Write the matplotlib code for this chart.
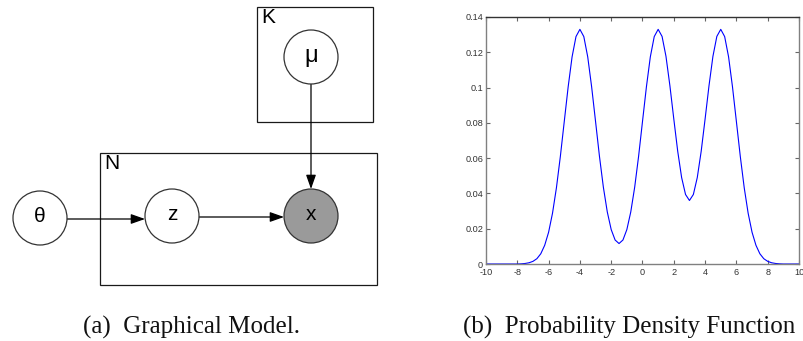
import numpy as np
import matplotlib
matplotlib.use("Agg")
import matplotlib.pyplot as plt
from matplotlib.patches import Circle, Rectangle

# ---------------- data ----------------
x_start, x_step = -10.0, 0.25
density = [
    0, 0, 0, 0, 0, 0, 0, 0, 0.0000, 0.0001, 0.0003, 0.0007, 0.0015, 0.0030,
    0.0058, 0.0106, 0.0180, 0.0288, 0.0432, 0.0609, 0.0807, 0.1004, 0.1174,
    0.1289, 0.1330, 0.1289, 0.1174, 0.1004, 0.0808, 0.0610, 0.0435, 0.0295,
    0.0195, 0.0136, 0.0116, 0.0136, 0.0195, 0.0295, 0.0435, 0.0610, 0.0808,
    0.1004, 0.1174, 0.1289, 0.1330, 0.1290, 0.1177, 0.1011, 0.0822, 0.0639,
    0.0490, 0.0394, 0.0360, 0.0394, 0.0490, 0.0639, 0.0822, 0.1011, 0.1177,
    0.1290, 0.1330, 0.1289, 0.1174, 0.1004, 0.0807, 0.0609, 0.0432, 0.0288,
    0.0180, 0.0106, 0.0058, 0.0030, 0.0015, 0.0007, 0.0003, 0.0001, 0, 0, 0,
    0, 0,
]
x_vals = x_start + x_step * np.arange(len(density))

x_ticks = [-10, -8, -6, -4, -2, 0, 2, 4, 6, 8, 10]
y_ticks = [0, 0.02, 0.04, 0.06, 0.08, 0.1, 0.12, 0.14]
y_tick_labels = ["0", "0.02", "0.04", "0.06", "0.08", "0.1", "0.12", "0.14"]

node_names = ["theta", "z", "x", "mu"]
node_labels = ["θ", "z", "x", "μ"]
node_observed = [False, False, True, False]
edges = [("theta", "z"), ("z", "x"), ("mu", "x")]
plate_labels = ["K", "N"]

caption_a = "(a)  Graphical Model."
caption_b = "(b)  Probability Density Function"

# ---------------- layout (pixels) ----------------
W, H = 804, 341
node_pos = {"theta": (40, 218), "z": (172, 216), "x": (311, 216), "mu": (311, 57)}
node_r = 27
node_fs = {"theta": 15, "z": 15, "x": 15, "mu": 17}
plate_rect = {"K": (257, 7, 373, 122), "N": (100, 153, 377, 285)}

fig = plt.figure(figsize=(W / 100, H / 100), dpi=100)
fig.patch.set_facecolor("white")

# diagram axes in pixel coordinates
ax0 = fig.add_axes([0, 0, 1, 1])
ax0.set_xlim(0, W)
ax0.set_ylim(H, 0)
ax0.axis("off")

sans = ["Liberation Sans", "DejaVu Sans"]

for name in plate_labels:
    x0, y0, x1, y1 = plate_rect[name]
    ax0.add_patch(Rectangle((x0, y0), x1 - x0, y1 - y0, fill=False,
                            ec="#1a1a1a", lw=0.9))
    ax0.text(x0 + 4, y0 + 1, name, family=sans, fontsize=15,
             ha="left", va="top", color="black")

def edge_point(a, b):
    (ax_, ay), (bx, by) = node_pos[a], node_pos[b]
    d = np.hypot(bx - ax_, by - ay)
    ux, uy = (bx - ax_) / d, (by - ay) / d
    return (ax_ + ux * node_r, ay + uy * node_r), (bx - ux * node_r, by - uy * node_r)

for a, b in edges:
    p0, p1 = edge_point(a, b)
    if a == "mu":
        p0 = (node_pos[b][0], p0[1])
        p1 = (node_pos[b][0], p1[1])
    else:
        yy = node_pos[a][1] if a == "theta" else (node_pos[a][1] + node_pos[b][1]) / 2
        p0 = (p0[0], yy + 1)
        p1 = (p1[0], yy + 1)
    ax0.annotate("", xy=p1, xytext=p0,
                 arrowprops=dict(arrowstyle="-|>,head_length=0.85,head_width=0.3",
                                 mutation_scale=10, lw=0.9, color="black",
                                 shrinkA=0, shrinkB=0))

for name, lab, obs in zip(node_names, node_labels, node_observed):
    cx, cy = node_pos[name]
    ax0.add_patch(Circle((cx, cy), node_r, fc="#9a9a9a" if obs else "white",
                         ec="#333333", lw=0.9, zorder=3))
    ax0.text(cx, cy - 1, lab, family=sans, fontsize=node_fs[name], ha="center",
             va="center", color="black", zorder=4)

serif = ["Liberation Serif", "DejaVu Serif"]
fig.text(192 / W, 1 - 327 / H, caption_a, family=serif, fontsize=18,
         ha="center", va="center", color="#111111")
fig.text(629 / W, 1 - 327 / H, caption_b, family=serif, fontsize=18,
         ha="center", va="center", color="#111111")

# ---------------- plot axes ----------------
L, R, T, B = 486, 799, 17, 264
ax = fig.add_axes([L / W, 1 - B / H, (R - L) / W, (B - T) / H])
ax.plot(x_vals, density, color="#0000ff", lw=0.8)
ax.set_xlim(-10, 10)
ax.set_ylim(0, 0.14)
ax.set_xticks(x_ticks)
ax.set_xticklabels([str(t) for t in x_ticks])
ax.set_yticks(y_ticks)
ax.set_yticklabels(y_tick_labels)
ax.tick_params(direction="in", length=3, width=0.8, colors="#666666",
               labelcolor="#333333", labelsize=6.6, pad=2,
               top=True, right=True)
ax.tick_params(axis="x", pad=3)
for lab in ax.get_xticklabels() + ax.get_yticklabels():
    lab.set_family(sans)
for s in ["left", "bottom", "right"]:
    ax.spines[s].set_color("#808080")
    ax.spines[s].set_linewidth(1.0)
ax.spines["top"].set_color("#333333")
ax.spines["top"].set_linewidth(1.0)

fig.savefig("out.png", dpi=100, facecolor="white")
